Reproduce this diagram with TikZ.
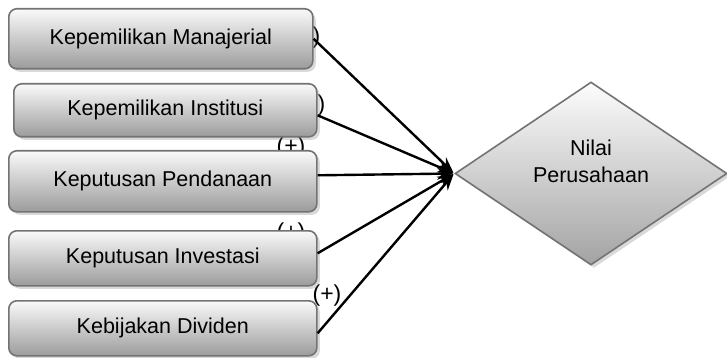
\documentclass[tikz,border=0pt]{standalone}
\usepackage{fontspec}
\setmainfont{Liberation Sans}
\usetikzlibrary{shapes.geometric,shadows,arrows.meta}

\begin{document}
\begin{tikzpicture}[x=1pt,y=-1pt,shorten >=1pt,>={Stealth[length=16pt,width=12pt]},
  var node/.style={rectangle,rounded corners=8pt,draw=black!55,line width=1.6pt,
    top color=gray!4,bottom color=gray!78,anchor=north west,inner sep=0pt,
    drop shadow={shadow xshift=3pt,shadow yshift=-3pt,opacity=.3},
    font=\fontsize{21.5}{27}\selectfont},
  main node/.style={diamond,aspect=1.5,draw=black!55,line width=1.6pt,
    top color=gray!2,bottom color=gray!72,inner sep=0pt,
    minimum width=272pt,minimum height=183pt,align=center,text depth=24pt,
    drop shadow={shadow xshift=3pt,shadow yshift=-3pt,opacity=.3},
    font=\fontsize{21.5}{27}\selectfont},
  sign/.style={font=\fontsize{23}{27}\selectfont,inner sep=0pt}]

  \useasboundingbox (0,0) rectangle (727,358);

  % signs (partly hidden behind the boxes)
  \node[sign] (s1) at (306,38) {(+)};
  \node[sign] (s2) at (311,106) {(+)};
  \node[sign] (s3) at (291,148) {(+)};
  \node[sign] (s4) at (291,234) {(+)};
  \node[sign] (s5) at (327,296) {(+)};

  \node[var node,minimum width=304pt,minimum height=60pt] (km) at (8,8) {Kepemilikan Manajerial};
  \node[var node,minimum width=303pt,minimum height=53pt] (ki) at (13,83) {Kepemilikan Institusi};
  \node[var node,minimum width=308pt,minimum height=61pt] (kp) at (8,150) {Keputusan Pendanaan};
  \node[var node,minimum width=308pt,minimum height=55pt] (kv) at (8,230) {Keputusan Investasi};
  \node[var node,minimum width=308pt,minimum height=55pt] (kd) at (8,300) {Kebijakan Dividen};

  \node[main node] (nv) at (591,173.5) {Nilai\\Perusahaan};

  \path[->,line width=2.4pt]
  (km.east) edge (nv.west)
  ([yshift=-5pt]ki.east) edge (nv.west)
  ([yshift=6pt]kp.east) edge (nv.west)
  ([yshift=5pt]kv.east) edge (nv.west)
  ([yshift=-5pt]kd.east) edge (nv.west);
\end{tikzpicture}
\end{document}
